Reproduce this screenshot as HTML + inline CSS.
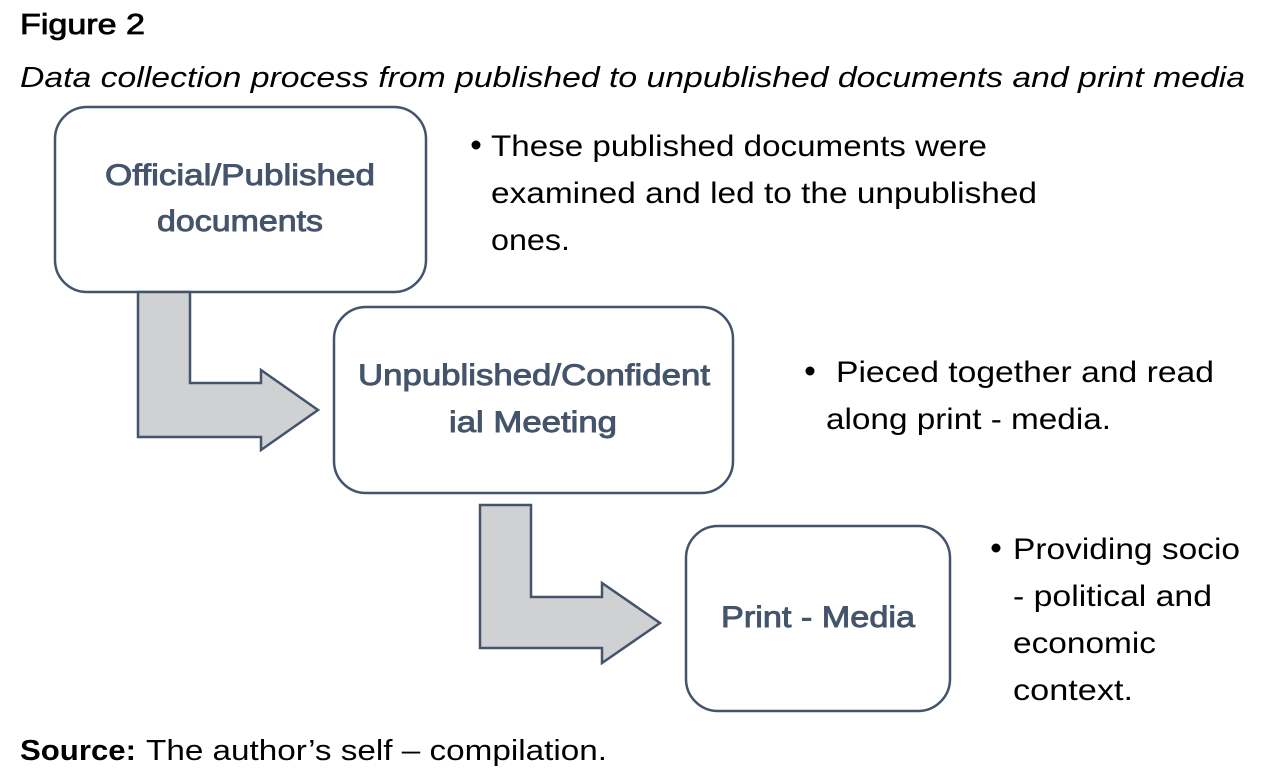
<!DOCTYPE html>
<html><head><meta charset="utf-8"><style>
html,body{margin:0;padding:0;background:#fff;}
svg{display:block;font-family:"Liberation Sans",sans-serif;}
.bx{fill:#fff;stroke:#44546a;stroke-width:2.5;}
.ar{fill:#d0d1d3;stroke:#44546a;stroke-width:2.5;stroke-linejoin:miter;}
.bt{fill:#44546a;font-size:30px;stroke:#44546a;stroke-width:0.9;}
.t{fill:#000;font-size:30px;}
</style></head><body>
<svg width="1275" height="780" viewBox="0 0 1275 780">
<text x="20" y="34" font-size="29" stroke="#000" stroke-width="0.8" textLength="125" lengthAdjust="spacingAndGlyphs">Figure 2</text>
<text x="20" y="87" font-size="29" font-style="italic" textLength="1225" lengthAdjust="spacingAndGlyphs">Data collection process from published to unpublished documents and print media</text>

<rect class="bx" x="55" y="107" width="371" height="185" rx="32"/>
<rect class="bx" x="334" y="307" width="399" height="186" rx="32"/>
<rect class="bx" x="686" y="526" width="264" height="185" rx="32"/>

<path class="ar" d="M138 292 L190 292 L190 383 L261 383 L261 370 L318 410 L261 450 L261 437 L138 437 Z"/>
<path class="ar" d="M480 505 L531 505 L531 597 L602 597 L602 583 L660 623 L602 663 L602 648 L480 648 Z"/>

<text class="bt" x="105" y="185" textLength="270" lengthAdjust="spacingAndGlyphs">Official/Published</text>
<text class="bt" x="157" y="231" textLength="166" lengthAdjust="spacingAndGlyphs">documents</text>
<text class="bt" x="358" y="385" textLength="352" lengthAdjust="spacingAndGlyphs">Unpublished/Confident</text>
<text class="bt" x="449" y="432" textLength="168" lengthAdjust="spacingAndGlyphs">ial Meeting</text>
<text class="bt" x="721" y="627" textLength="194" lengthAdjust="spacingAndGlyphs">Print - Media</text>

<circle cx="476" cy="145" r="4.5" fill="#000"/>
<text class="t" x="491" y="156" textLength="496" lengthAdjust="spacingAndGlyphs">These published documents were</text>
<text class="t" x="491" y="203" textLength="546" lengthAdjust="spacingAndGlyphs">examined and led to the unpublished</text>
<text class="t" x="491" y="250" textLength="79" lengthAdjust="spacingAndGlyphs">ones.</text>

<circle cx="810" cy="371" r="4.5" fill="#000"/>
<text class="t" x="836" y="382" textLength="378" lengthAdjust="spacingAndGlyphs">Pieced together and read</text>
<text class="t" x="826" y="429" textLength="285" lengthAdjust="spacingAndGlyphs">along print - media.</text>

<circle cx="996" cy="548" r="4.5" fill="#000"/>
<text class="t" x="1013" y="559" textLength="227" lengthAdjust="spacingAndGlyphs">Providing socio</text>
<text class="t" x="1013" y="606" textLength="199" lengthAdjust="spacingAndGlyphs">- political and</text>
<text class="t" x="1013" y="653" textLength="143" lengthAdjust="spacingAndGlyphs">economic</text>
<text class="t" x="1013" y="700" textLength="120" lengthAdjust="spacingAndGlyphs">context.</text>

<text x="20" y="760" font-size="29" font-weight="bold" textLength="116" lengthAdjust="spacingAndGlyphs">Source:</text>
<text x="146" y="760" font-size="29" textLength="461" lengthAdjust="spacingAndGlyphs">The author’s self – compilation.</text>
</svg>
</body></html>
